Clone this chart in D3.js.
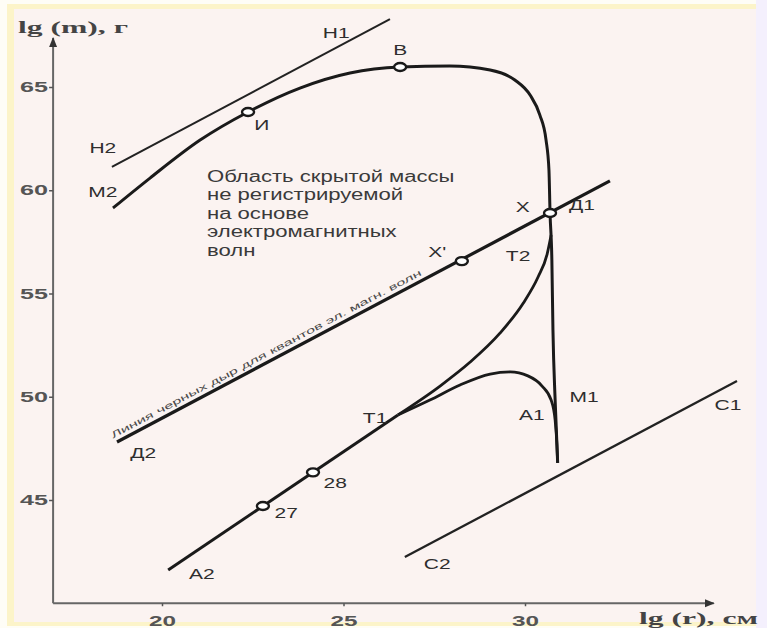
<!DOCTYPE html>
<meta charset="utf-8">
<title>lg m - lg r</title>
<style type="text/css">
  body { margin: 0; background: #fff; }
  svg { display: block; font-family: "Liberation Sans", Arial, sans-serif; }
  .lbl { font-size: 15px; fill: #2e2e2e; }
  .tick text { font-size: 14.5px; fill: #555; font-weight: bold; font-family: "Liberation Sans", Arial, sans-serif; }
  .tick line { stroke: #555; stroke-width: 1.5; }
  .ttl { font-family: "Liberation Serif", "Times New Roman", serif; font-size: 17px; fill: #444; font-weight: bold; }
</style>
<body>
<script src="https://cdn.jsdelivr.net/npm/d3@7"></script>
<script>

// tick values
var xTicks = [20, 25, 30];
var yTicks = [45, 50, 55, 60, 65];

// М2 - И - В - Х - М1 (lg r, lg m)
var massCurve = [
  [18.65, 59.14], [19.67, 60.59], [21.05, 62.43], [22.37, 63.79], [23.80, 64.95],
  [25.18, 65.68], [26.56, 65.97], [27.93, 66.02], [29.04, 65.82], [29.72, 65.34],
  [30.14, 64.61], [30.41, 63.64], [30.58, 62.43], [30.66, 60.98], [30.69, 58.90],
  [30.74, 56.62], [30.77, 53.23], [30.83, 49.84], [30.90, 46.80]
];
// Н2 - Н1
var lineH = [[18.62, 61.13], [26.28, 68.29]];
// Д2 - Д1 (black holes line)
var lineD = [[18.76, 47.81], [32.34, 60.45]];
// А2 - Т1
var lineA = [[20.17, 41.61], [26.50, 49.12]];
// Т1 - Т2
var curveT2 = [
  [26.50, 49.12], [27.66, 50.52], [28.49, 51.68], [29.31, 53.08], [29.95, 54.53],
  [30.36, 55.80], [30.61, 56.91], [30.72, 57.83]
];
// Т1 - А1
var curveA1 = [
  [26.50, 49.12], [27.38, 49.84], [28.21, 50.57], [29.04, 51.10], [29.59, 51.20],
  [30.08, 51.01], [30.47, 50.52], [30.72, 49.84], [30.83, 48.87], [30.88, 47.66],
  [30.90, 46.80]
];
// С2 - С1
var lineC = [[26.69, 42.24], [35.84, 50.76]];

var markers = [
  [22.37, 63.79], [26.56, 65.97], [30.69, 58.90], [28.26, 56.57], [22.78, 44.71], [24.16, 46.34]
];

var labels = [
  ["Н1", 24.80, 67.62], ["В", 26.56, 66.79], ["И", 22.75, 63.16], ["Н2", 18.37, 62.05],
  ["М2", 18.37, 59.92], ["Х", 29.94, 59.19], ["Д1", 31.57, 59.29], ["Х'", 27.58, 57.01],
  ["Т2", 29.81, 56.82], ["М1", 31.63, 49.99], ["А1", 30.19, 49.16], ["Т1", 25.87, 48.97],
  ["С1", 35.59, 49.60], ["Д2", 19.48, 47.28], ["28", 24.77, 45.82], ["27", 23.42, 44.37],
  ["А2", 21.10, 41.42], ["С2", 27.58, 41.90]
];

var areaText = ["Область скрытой массы", "не регистрируемой", "на основе", "электромагнитных", "волн"];
var lineText = "Линия черных дыр для квантов эл. магн. волн";

var width = 767, height = 628;

var x = d3.scaleLinear().domain([20, 30]).range([162, 525]);
var y = d3.scaleLinear().domain([45, 65]).range([500, 87]);

var svg = d3.select("body").append("svg")
  .attr("width", width)
  .attr("height", height);

// frame / background
svg.append("rect").attr("x", 0).attr("y", 0).attr("width", width).attr("height", height).attr("fill", "#fefdf6");
svg.append("rect").attr("x", 7).attr("y", 4).attr("width", 752).attr("height", 622).attr("fill", "#fcf4c9");
svg.append("rect").attr("x", 14).attr("y", 9).attr("width", 745).attr("height", 613).attr("fill", "#fbf3f1");
svg.append("rect").attr("x", 756).attr("y", 0).attr("width", 11).attr("height", height).attr("fill", "#f4f0fd");

var defs = svg.append("defs");
defs.append("marker")
  .attr("id", "arrow")
  .attr("viewBox", "0 0 10 10")
  .attr("refX", 9).attr("refY", 5)
  .attr("markerWidth", 5).attr("markerHeight", 5)
  .attr("orient", "auto")
  .append("path")
  .attr("d", "M0,1 L10,5 L0,9 Z")
  .attr("fill", "#333");

// axes lines with arrows
svg.append("line")
  .attr("x1", x(17)).attr("y1", y(40))
  .attr("x2", x(35.2)).attr("y2", y(40))
  .attr("stroke", "#666").attr("stroke-width", 2)
  .attr("marker-end", "url(#arrow)");
svg.append("line")
  .attr("x1", x(17)).attr("y1", y(40))
  .attr("x2", x(17)).attr("y2", y(67.37))
  .attr("stroke", "#666").attr("stroke-width", 2)
  .attr("marker-end", "url(#arrow)");

// ticks
var gx = svg.append("g")
  .attr("transform", "translate(0," + y(40) + ")")
  .call(d3.axisBottom(x).tickValues(xTicks).tickSize(3).tickPadding(9));
gx.select(".domain").remove();
gx.selectAll("text").attr("textLength", 27).attr("lengthAdjust", "spacingAndGlyphs");

var gy = svg.append("g")
  .attr("transform", "translate(" + x(17) + ",0)")
  .call(d3.axisLeft(y).tickValues(yTicks).tickSize(4).tickPadding(1));
gy.select(".domain").remove();
gy.selectAll("text").attr("textLength", 28).attr("lengthAdjust", "spacingAndGlyphs");

// axis titles
svg.append("text").attr("class", "ttl")
  .attr("x", 18).attr("y", 33)
  .attr("textLength", 110).attr("lengthAdjust", "spacingAndGlyphs")
  .text("lg (m), г");
svg.append("text").attr("class", "ttl")
  .attr("x", 639).attr("y", 624)
  .attr("textLength", 119).attr("lengthAdjust", "spacingAndGlyphs")
  .text("lg (r), см");

var line = d3.line().x(function(d) { return x(d[0]); }).y(function(d) { return y(d[1]); });
var smooth = d3.line().x(function(d) { return x(d[0]); }).y(function(d) { return y(d[1]); })
  .curve(d3.curveMonotoneX);

svg.append("path").attr("d", line(lineH)).attr("fill", "none").attr("stroke", "#222").attr("stroke-width", 2);
svg.append("path").attr("d", line(lineC)).attr("fill", "none").attr("stroke", "#222").attr("stroke-width", 2.3);
svg.append("path").attr("d", line(lineD)).attr("fill", "none").attr("stroke", "#1a1a1a").attr("stroke-width", 3.2);
svg.append("path").attr("d", line(lineA)).attr("fill", "none").attr("stroke", "#1a1a1a").attr("stroke-width", 3);
svg.append("path").attr("d", smooth(curveT2)).attr("fill", "none").attr("stroke", "#1a1a1a").attr("stroke-width", 2.8);
svg.append("path").attr("d", smooth(curveA1)).attr("fill", "none").attr("stroke", "#1a1a1a").attr("stroke-width", 2.8);
svg.append("path").attr("d", smooth(massCurve)).attr("fill", "none").attr("stroke", "#1a1a1a").attr("stroke-width", 3);

// text along the Д line
var p0 = [x(lineD[0][0]), y(lineD[0][1])];
var p1 = [x(lineD[1][0]), y(lineD[1][1])];
var ang = Math.atan2(p1[1] - p0[1], p1[0] - p0[0]) * 180 / Math.PI;
svg.append("text")
  .attr("transform", "translate(" + p0[0] + "," + p0[1] + ") rotate(" + ang + ")")
  .attr("x", -2).attr("y", -5)
  .attr("textLength", 350).attr("lengthAdjust", "spacingAndGlyphs")
  .style("font-size", "9px").style("fill", "#4a4a4a")
  .text(lineText);

// point markers
svg.selectAll(".pt")
  .data(markers)
  .enter()
  .append("ellipse")
  .attr("class", "pt")
  .attr("cx", function(d) { return x(d[0]); })
  .attr("cy", function(d) { return y(d[1]); })
  .attr("rx", 6).attr("ry", 4)
  .attr("fill", "#fff").attr("stroke", "#1a1a1a").attr("stroke-width", 2.4);

// labels
svg.selectAll(".lbl")
  .data(labels)
  .enter()
  .append("text")
  .attr("class", "lbl")
  .attr("transform", function(d) { return "translate(" + x(d[1]) + "," + y(d[2]) + ") scale(1.4,1)"; })
  .attr("text-anchor", "middle")
  .attr("dy", "0.36em")
  .text(function(d) { return d[0]; });

// hidden mass area text
var area = svg.append("text")
  .attr("transform", "translate(" + x(21.24) + "," + y(60.69) + ") scale(1.38,1)")
  .style("font-size", "16px").style("fill", "#3a3a3a");
area.selectAll("tspan")
  .data(areaText)
  .enter()
  .append("tspan")
  .attr("x", 0)
  .attr("dy", function(d, i) { return i == 0 ? "0.36em" : "1.16em"; })
  .text(function(d) { return d; });

</script>
</body>
